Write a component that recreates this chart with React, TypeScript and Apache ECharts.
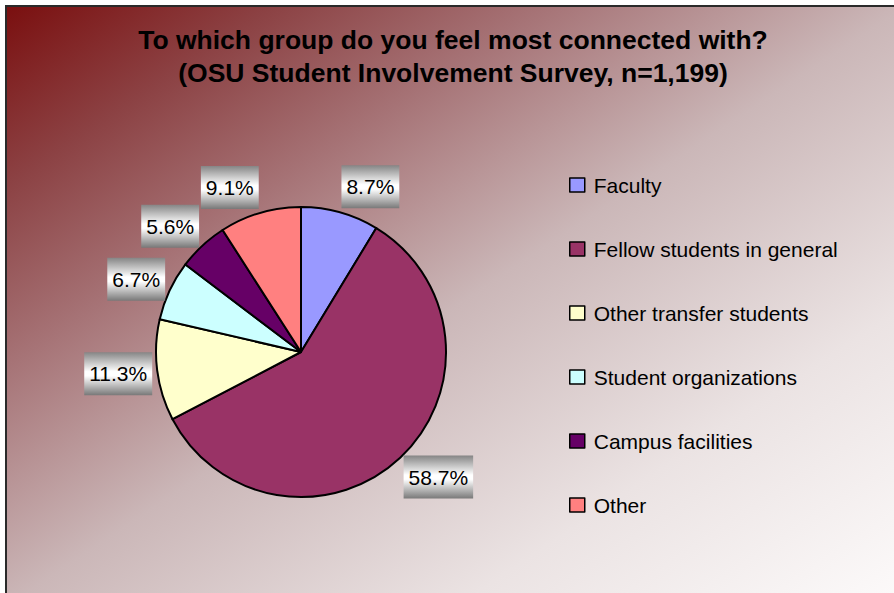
import React, { useEffect, useRef } from 'react';
import * as echarts from 'echarts';

const titleText = 'To which group do you feel most connected with?\n(OSU Student Involvement Survey, n=1,199)';
const categories = [
  'Faculty',
  'Fellow students in general',
  'Other transfer students',
  'Student organizations',
  'Campus facilities',
  'Other',
];
const values = [8.7, 58.7, 11.3, 6.7, 5.6, 9.1];
const colors = ['#9999ff', '#993366', '#ffffcc', '#ccffff', '#660066', '#ff8080'];

const FONT = '"Liberation Sans", Arial, sans-serif';

export default function App() {
  const ref = useRef<HTMLDivElement>(null);
  useEffect(() => {
    if (!ref.current) return;
    const chart = echarts.init(ref.current, undefined, { renderer: 'svg' });
    const labelBg = new echarts.graphic.LinearGradient(0, 0, 0, 1, [
      { offset: 0, color: '#858585' },
      { offset: 0.45, color: '#ffffff' },
      { offset: 0.55, color: '#ffffff' },
      { offset: 1, color: '#787878' },
    ]);
    // Excel-like "outside end" placement: the label box touches the anchor point
    // on the slice bisector (computed by ECharts) with its inner side.
    const labelLayout = (p: any) => {
      const pts = p.labelLinePoints;
      if (!pts || pts.length < 2) return { align: 'center', verticalAlign: 'middle' };
      const [p0, p1] = pts;
      const vx = p1[0] - p0[0];
      const vy = p1[1] - p0[1];
      const len = Math.hypot(vx, vy) || 1;
      const dy = vy / len;
      const w = p.labelRect.width;
      const h = p.labelRect.height;
      return {
        x: p1[0] + (vx >= 0 ? 1 : -1) * (w / 2),
        y: p1[1] + dy * (h / 2),
        align: 'center',
        verticalAlign: 'middle',
      };
    };
    const option: any = {
      animation: false,
      graphic: [
        {
          type: 'rect',
          z: -10,
          silent: true,
          shape: { x: 6, y: 6, width: 900, height: 600 },
          style: {
            fill: new echarts.graphic.LinearGradient(0, 0, 1, 1, [
              { offset: 0, color: '#7a0f0f' },
              { offset: 0.15, color: '#8c4244' },
              { offset: 0.3, color: '#a67376' },
              { offset: 0.5, color: '#cbb7b8' },
              { offset: 0.75, color: '#ebe3e3' },
              { offset: 1, color: '#fdfbfb' },
            ]),
            stroke: '#2a2a2a',
            lineWidth: 2,
          },
        },
      ],
      title: {
        text: titleText,
        left: 448,
        top: 18,
        textAlign: 'center',
        textStyle: {
          fontFamily: FONT,
          fontSize: 26.5,
          fontWeight: 'bold',
          color: '#000',
          lineHeight: 33,
        },
      },
      legend: {
        orient: 'vertical',
        left: 569,
        top: 174,
        padding: 0,
        icon: 'rect',
        itemWidth: 15,
        itemHeight: 14,
        itemGap: 42,
        data: categories,
        itemStyle: { borderColor: '#000', borderWidth: 1.5 },
        textStyle: {
          fontFamily: FONT,
          fontSize: 21,
          color: '#000',
          lineHeight: 22,
          padding: [0, 0, 0, 4],
        },
      },
      series: [
        {
          type: 'pie',
          center: [301, 352],
          radius: 145,
          startAngle: 90,
          clockwise: true,
          avoidLabelOverlap: false,
          itemStyle: { borderColor: '#000', borderWidth: 2 },
          emphasis: { disabled: true },
          label: {
            show: true,
            position: 'outside',
            distanceToLabelLine: 0,
            formatter: (p: any) => `${Number(p.value).toFixed(1)}%`,
            fontFamily: FONT,
            fontSize: 21,
            lineHeight: 21,
            color: '#000',
            backgroundColor: labelBg,
            padding: [11, 5, 11, 5],
          },
          labelLine: {
            show: true,
            length: 5,
            length2: 0,
            lineStyle: { width: 0, opacity: 0 },
          },
          labelLayout,
          data: categories.map((name, i) => ({
            name,
            value: values[i],
            itemStyle: { color: colors[i] },
          })),
        },
      ],
    };
    chart.setOption(option);
    return () => chart.dispose();
  }, []);
  return (
    <div
      ref={ref}
      style={{ position: 'fixed', left: 0, top: 0, width: 894, height: 593, background: '#ffffff' }}
    />
  );
}
